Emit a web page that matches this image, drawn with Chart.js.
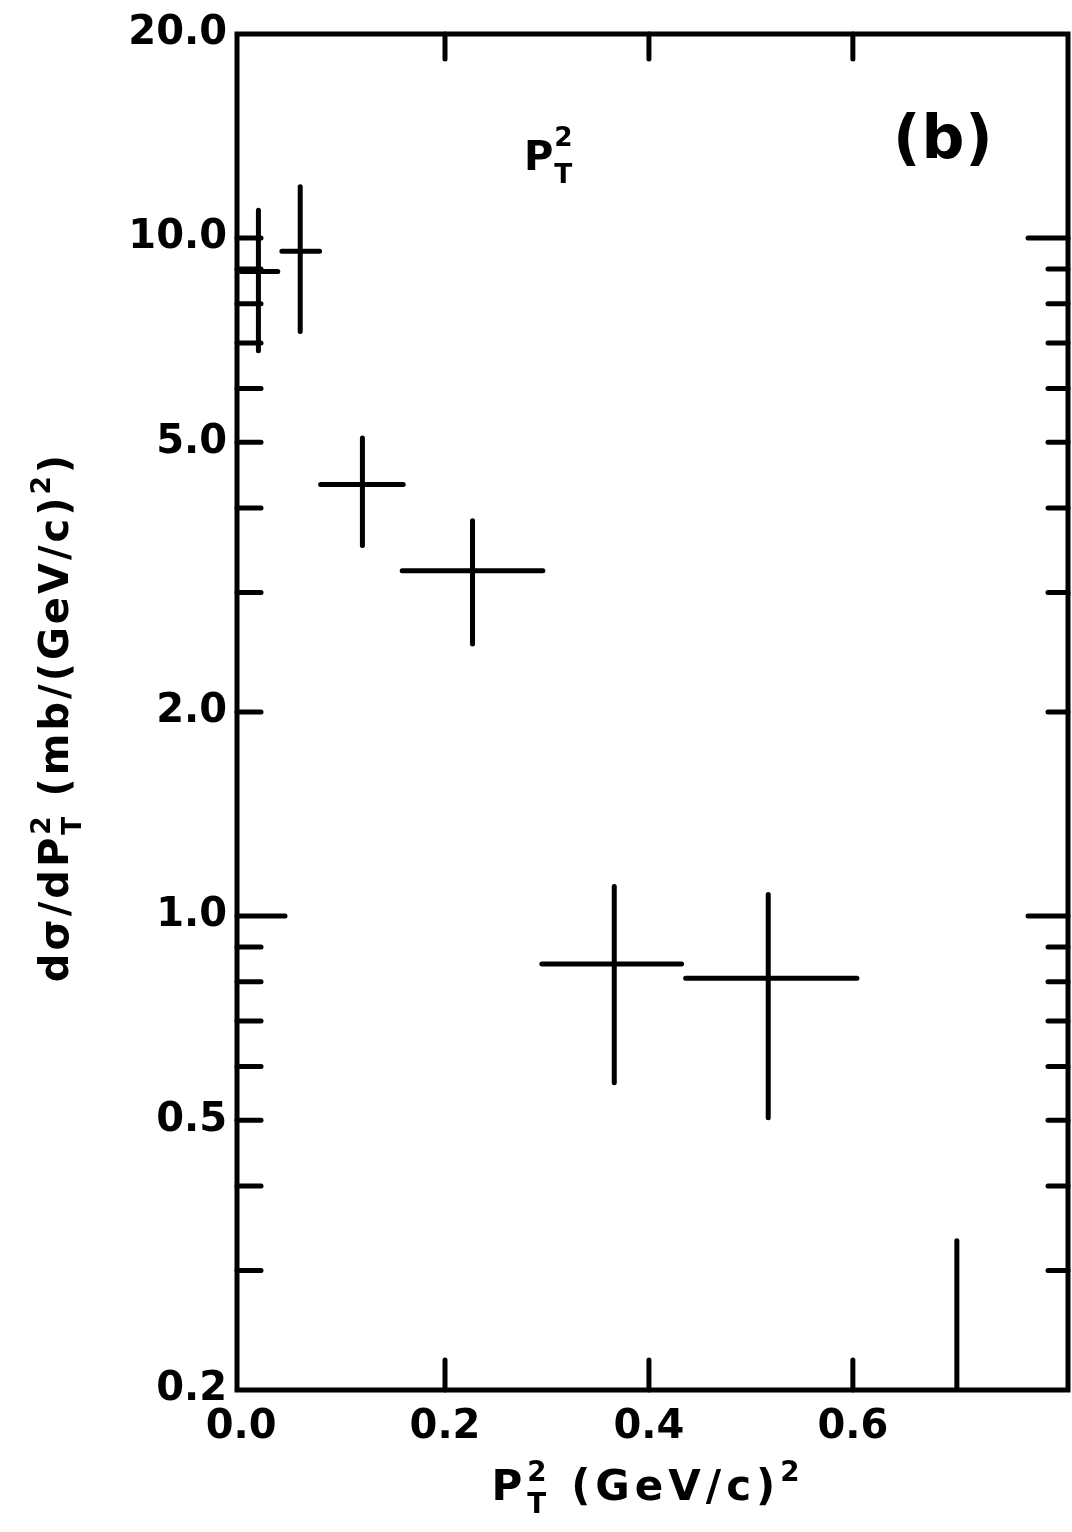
<!DOCTYPE html>
<html>
<head>
<meta charset="utf-8">
<script src="https://cdn.jsdelivr.net/npm/chart.js@4/dist/chart.umd.min.js"></script>
<style>
  html, body { margin: 0; padding: 0; background: #fff; }
  #chart { display: block; }
</style>
</head>
<body>
<canvas id="chart" width="1072" height="1532"></canvas>
<script>
// pT^2 bins (GeV/c)^2 and dsigma/dpT^2 (mb/(GeV/c)^2)
const binCenters = [0.017, 0.058, 0.119, 0.227, 0.366, 0.517];
const binLow = [0.0, 0.040, 0.078, 0.158, 0.295, 0.436];
const binHigh = [0.036, 0.077, 0.159, 0.296, 0.432, 0.604];
const crossSection = [8.93, 9.56, 4.33, 3.23, 0.850, 0.810];
const errLow = [6.82, 7.28, 3.52, 2.52, 0.568, 0.504];
const errHigh = [10.99, 11.91, 5.07, 3.83, 1.106, 1.076];

// last bin: only an upper error bar reaching into the frame
const limitX = [0.702];
const limitHigh = [0.332];

const xTickValues = [0.0, 0.2, 0.4, 0.6];
const xInnerTicks = [0.2, 0.4, 0.6];
const yTickValues = [0.2, 0.5, 1.0, 2.0, 5.0, 10.0, 20.0];
const yMinorValues = [0.3, 0.4, 0.6, 0.7, 0.8, 0.9, 3, 4, 6, 7, 8, 9];

(function () {
  const $ = (id) => document.getElementById(id);
  const FONT = '"DejaVu Sans", "Liberation Sans", sans-serif';
  const Y_MIN = 0.2;
  const Y_MAX = 20;

  function buildHorizontal() {
    const pts = [];
    binCenters.forEach((_, i) => {
      pts.push({ x: binLow[i], y: crossSection[i] });
      pts.push({ x: binHigh[i], y: crossSection[i] });
      pts.push({ x: binHigh[i], y: null });
    });
    return pts;
  }

  function buildVertical() {
    const pts = [];
    binCenters.forEach((x, i) => {
      pts.push({ x, y: errLow[i] });
      pts.push({ x, y: errHigh[i] });
      pts.push({ x, y: null });
    });
    limitX.forEach((x, i) => {
      pts.push({ x, y: Y_MIN });
      pts.push({ x, y: limitHigh[i] });
      pts.push({ x, y: null });
    });
    return pts;
  }

  // text with stacked sub/superscripts, e.g. P_T^2
  function richWidth(ctx, parts, size) {
    let w = 0;
    let last = 0;
    parts.forEach((p) => {
      ctx.font = `bold ${p.sub || p.sup ? size * 0.66 : size}px ${FONT}`;
      const pw = ctx.measureText(p.t).width;
      if (p.stack) {
        w += Math.max(0, pw - last);
      } else {
        w += pw;
        last = pw;
      }
    });
    return w;
  }

  function drawRich(ctx, parts, x, y, size, supLift = 0.45) {
    let cx = x;
    let last = 0;
    parts.forEach((p) => {
      const fs = p.sub || p.sup ? size * 0.66 : size;
      ctx.font = `bold ${fs}px ${FONT}`;
      const pw = ctx.measureText(p.t).width;
      const dy = p.sub ? size * 0.32 : p.sup ? -size * supLift : 0;
      if (p.stack) {
        ctx.fillText(p.t, cx - last, y + dy);
        cx = cx - last + Math.max(pw, last);
      } else {
        ctx.fillText(p.t, cx, y + dy);
        cx += pw;
        last = pw;
      }
    });
  }

  const ptSq = [{ t: "P" }, { t: "T", sub: true }, { t: "2", sup: true, stack: true }];
  const yTitle = [
    { t: "dσ/dP" }, { t: "T", sub: true }, { t: "2", sup: true, stack: true },
    { t: " (mb/(GeV/c)" }, { t: "2", sup: true }, { t: ")" }
  ];
  const xTitle = [...ptSq, { t: " (GeV/c)" }, { t: "2", sup: true }];

  const framePlugin = {
    id: "frameTicks",
    afterDatasetsDraw(chart) {
      const { ctx, chartArea: a, scales } = chart;
      const xs = scales.x;
      const ys = scales.y;
      ctx.save();
      ctx.strokeStyle = "#000";
      ctx.lineWidth = 5;
      ctx.lineCap = "round";
      ctx.strokeRect(a.left, a.top, a.right - a.left, a.bottom - a.top);

      const tick = (x1, y1, x2, y2) => {
        ctx.beginPath();
        ctx.moveTo(x1, y1);
        ctx.lineTo(x2, y2);
        ctx.stroke();
      };

      [...yTickValues, ...yMinorValues].forEach((v) => {
        if (v <= Y_MIN || v >= Y_MAX) return;
        const py = ys.getPixelForValue(v);
        const decade = v === 1 || v === 10;
        tick(a.left, py, a.left + (v === 1 ? 48 : 24), py);
        tick(a.right, py, a.right - (decade ? 40 : 20), py);
      });

      xInnerTicks.forEach((v) => {
        const px = xs.getPixelForValue(v);
        tick(px, a.bottom, px, a.bottom - 30);
        tick(px, a.top, px, a.top + 25);
      });
      ctx.restore();
    },
    afterDraw(chart) {
      const { ctx } = chart;
      ctx.save();
      ctx.fillStyle = "#000";
      ctx.textBaseline = "alphabetic";
      ctx.textAlign = "left";
      ctx.letterSpacing = "3px";

      // y axis title, reading upwards
      const ySize = 40;
      const yw = richWidth(ctx, yTitle, ySize);
      ctx.translate(68, 717);
      ctx.rotate(-Math.PI / 2);
      drawRich(ctx, yTitle, -yw / 2, 0, ySize);
      ctx.setTransform(1, 0, 0, 1, 0, 0);

      // x axis title
      ctx.letterSpacing = "5px";
      const xSize = 42;
      const xw = richWidth(ctx, xTitle, xSize);
      drawRich(ctx, xTitle, 648 - xw / 2, 1500, xSize);

      // labels inside the frame
      ctx.letterSpacing = "1px";
      drawRich(ctx, ptSq, 524, 170, 40, 0.6);
      ctx.font = `bold 60px ${FONT}`;
      ctx.fillText("(b)", 893, 158);
      ctx.restore();
    }
  };

  new Chart($("chart"), {
    type: "line",
    data: {
      datasets: [
        {
          data: buildHorizontal(),
          borderColor: "#000",
          borderWidth: 5,
          borderCapStyle: "round",
          pointRadius: 0,
          spanGaps: false,
          tension: 0
        },
        {
          data: buildVertical(),
          borderColor: "#000",
          borderWidth: 5,
          borderCapStyle: "round",
          pointRadius: 0,
          spanGaps: false,
          tension: 0
        }
      ]
    },
    options: {
      responsive: false,
      devicePixelRatio: 1,
      animation: false,
      events: [],
      layout: { padding: { top: 30, right: 4, left: 0, bottom: 0 } },
      plugins: { legend: { display: false }, tooltip: { enabled: false } },
      scales: {
        x: {
          type: "linear",
          min: -0.004,
          max: 0.811,
          grid: { display: false, drawTicks: false },
          border: { display: false },
          afterBuildTicks: (s) => { s.ticks = xTickValues.map((v) => ({ value: v })); },
          afterFit: (s) => { s.height = 142; },
          ticks: {
            autoSkip: false,
            maxRotation: 0,
            padding: 14,
            color: "#000",
            font: { family: FONT, size: 40, weight: "bold" },
            callback: (v) => Number(v).toFixed(1)
          }
        },
        y: {
          type: "logarithmic",
          min: Y_MIN,
          max: Y_MAX,
          grid: { display: false, drawTicks: false },
          border: { display: false },
          afterBuildTicks: (s) => { s.ticks = yTickValues.map((v) => ({ value: v })); },
          afterFit: (s) => { s.width = 237; },
          ticks: {
            autoSkip: false,
            padding: 10,
            color: "#000",
            font: { family: FONT, size: 40, weight: "bold" },
            callback: (v) => Number(v).toFixed(1)
          }
        }
      }
    },
    plugins: [framePlugin]
  });
})();
</script>
</body>
</html>
